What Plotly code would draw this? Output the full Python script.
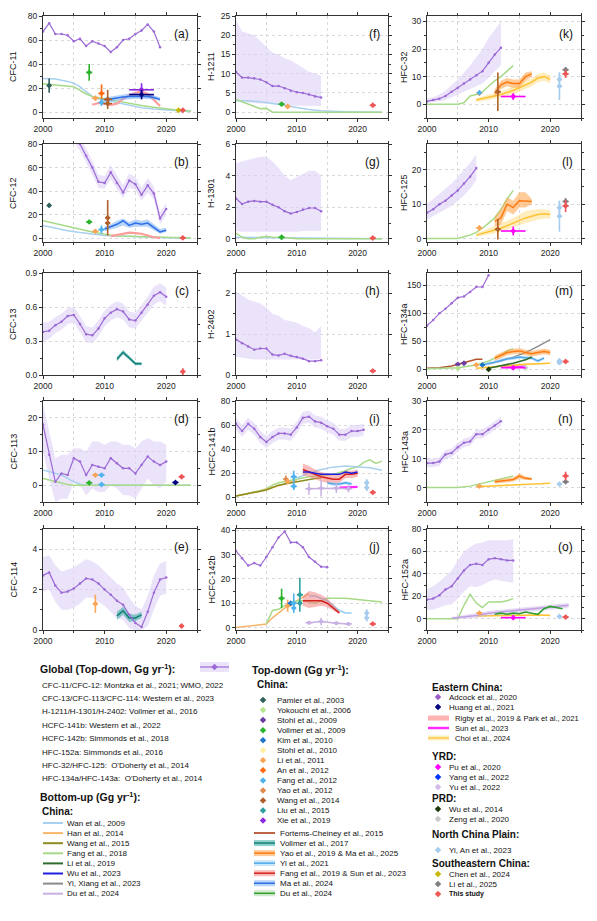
import plotly.graph_objects as go

W, H = 597, 921
FONT = "Liberation Sans, Arial, sans-serif"

# ======================= DATA =======================
# (a) CFC-11
GX_a = list(range(2000, 2020))
GY_a = [67, 74, 65, 65, 64, 59, 61, 55, 59, 57, 55, 50, 54, 60, 61, 65, 68, 73, 67, 54]
GLO_a = None
GHI_a = None
LINES_a = [
    ("WAN", [2000, 2002, 2004, 2005, 2006, 2007, 2008, 2009, 2010, 2012, 2014, 2016, 2018, 2020, 2022, 2024],
     [28, 27.5, 25.5, 24, 21, 17, 13, 11, 10, 8, 5.5, 3.5, 2.5, 1.5, 1, 0.5]),
    ("FANG18", [2000, 2002, 2004, 2005, 2006, 2007, 2008, 2009, 2010, 2012, 2014, 2016, 2018, 2020, 2022, 2024],
     [23.5, 22.5, 21.5, 21, 18, 15, 13, 12, 11, 9.5, 7.5, 5.5, 4, 2.5, 1.5, 0.8]),
    ("RIGBY", [2008, 2009, 2010, 2011, 2012, 2013, 2014, 2015, 2016, 2017, 2018, 2019],
     [6, 7.5, 7, 6, 7, 11, 14, 16, 17, 15, 10, 5]),
]
BANDS_a = [
    ("MA24", [2010, 2011, 2012, 2013, 2014, 2015, 2016, 2017, 2018, 2019],
     [10, 11, 12, 12.5, 13, 13, 13, 13, 12, 10.5],
     [8, 9, 10, 10, 10.5, 11, 11, 11, 10.5, 9],
     [12, 13, 14, 15, 15.5, 16, 15.5, 15, 14, 12]),
]
ERR_a = []
POINTS_a = [
    ("PAMIER", 2001, 22, 0.3, 6), ("VOLL09", 2007.5, 33, 0.5, 7), ("LI11", 2008.5, 11.5, 0.6, 2),
    ("AN12", 2009.5, 15.5, 0.5, 7.5), ("FANG12", 2009.5, 8, 0.5, 3), ("WANG14", 2010.5, 10.5, 0.7, 8),
    ("WANG14", 2010.5, 7, 0.7, 0), ("XIE19", 2016, 18.5, 2, 5.5), ("HUANG", 2016, 14.5, 2, 4),
    ("CHEN", 2022, 1.5, 0.4, 1), ("THIS", 2022.7, 1.5, 0.4, 1.2),
]

# (b) CFC-12
GX_b = list(range(2000, 2021))
GY_b = [105, 103, 100, 96, 92, 88, 80, 70, 60, 48, 47, 56, 47, 39, 49, 46, 37, 45, 38, 17, 25]
GLO_b = [99, 97, 94, 90, 86, 82, 74, 64, 54, 43, 42, 50, 42, 34, 43, 41, 32, 39, 33, 12, 20]
GHI_b = [111, 109, 106, 102, 98, 94, 86, 76, 66, 54, 53, 62, 53, 45, 55, 52, 43, 51, 44, 22, 30]
LINES_b = [
    ("WAN", [2000, 2002, 2004, 2006, 2008, 2010, 2012, 2014, 2016, 2018, 2020, 2022, 2024],
     [11, 8.5, 6.5, 5, 3.5, 2.5, 2, 1.5, 1, 0.8, 0.5, 0.3, 0.2]),
    ("FANG18", [2000, 2002, 2004, 2006, 2008, 2010, 2011, 2012, 2014, 2016, 2018, 2020, 2022, 2024],
     [15, 12.5, 10, 7.5, 5.5, 3.5, 2.5, 2, 1.8, 1.5, 1, 0.8, 0.5, 0.3]),
    ("RIGBY", [2011, 2012, 2013, 2014, 2015, 2016, 2017, 2018, 2019],
     [2, 3, 4.5, 5, 4.5, 4, 2.5, 1, 0.5]),
]
BANDS_b = [
    ("MA24", [2010, 2011, 2012, 2013, 2014, 2015, 2016, 2017, 2018, 2019, 2020],
     [8, 10, 12, 15, 11, 13, 12, 13, 9, 5.5, 7],
     [6, 7.5, 9, 11, 9, 10, 10, 10, 7, 4, 5.5],
     [10, 12, 15, 17, 14, 16, 15, 16, 12, 8, 9]),
]
ERR_b = []
POINTS_b = [
    ("PAMIER", 2001, 28, 0.3, 1.5), ("VOLL09", 2007.5, 14, 0.5, 1.5), ("LI11", 2008.5, 6, 0.5, 1.5),
    ("FANG12", 2009.5, 7.5, 0.5, 3.5), ("WANG14", 2010.5, 17.5, 0.4, 15), ("WANG14", 2010.5, 13, 0.4, 0),
    ("THIS", 2022.7, 0.5, 0.5, 1.5),
]

# (c) CFC-13
GX_c = list(range(2000, 2021))
GY_c = [0.38, 0.39, 0.44, 0.47, 0.52, 0.53, 0.45, 0.36, 0.35, 0.41, 0.5, 0.55, 0.58, 0.56, 0.49, 0.48,
        0.55, 0.62, 0.7, 0.73, 0.69]
GLO_c = [0.30, 0.32, 0.37, 0.40, 0.45, 0.46, 0.38, 0.29, 0.28, 0.34, 0.43, 0.48, 0.51, 0.49, 0.42, 0.41,
         0.48, 0.55, 0.62, 0.65, 0.61]
GHI_c = [0.46, 0.47, 0.51, 0.54, 0.59, 0.60, 0.52, 0.43, 0.42, 0.48, 0.57, 0.62, 0.65, 0.63, 0.56, 0.55,
         0.62, 0.69, 0.78, 0.81, 0.77]
LINES_c = []
BANDS_c = [
    ("VOLL17", [2012, 2013, 2014, 2015, 2016], [0.14, 0.2, 0.15, 0.1, 0.1],
     [0.12, 0.18, 0.13, 0.085, 0.085], [0.16, 0.22, 0.17, 0.115, 0.115]),
]
ERR_c = []
POINTS_c = [("THIS", 2022.7, 0.03, 0.4, 0.03)]

# (d) CFC-113
GX_d = list(range(2000, 2021))
GY_d = [18, 9, 1, 3.5, 3, 8, 7, 3, 6, 5.5, 5, 8, 6.5, 5, 5, 3.5, 6, 8.5, 7, 6, 7]
GLO_d = [10, 2, -5, -4, -4, 1, 0, -3, -1, -2, -2, 0, -1, -3, -3, -4, -1, 2, 0, -1, 1]
GHI_d = [24, 16, 8, 9, 9, 11, 11, 10, 13, 13, 12, 13, 13, 12, 12, 11, 13, 14, 13, 13, 12]
LINES_d = [
    ("WAN", [2000, 2001, 2002, 2003, 2004, 2005, 2006, 2007, 2010, 2015, 2020, 2024],
     [4.5, 4, 3.5, 3, 2, 1, 0.3, 0, 0, 0, 0, 0]),
    ("FANG18", [2000, 2001, 2002, 2003, 2004, 2005, 2010, 2015, 2020, 2024],
     [2, 1.5, 1, 0.5, 0.2, 0, 0, 0, 0, 0]),
]
BANDS_d = []
ERR_d = []
POINTS_d = [
    ("VOLL09", 2007.5, 0.7, 0.5, 0.4), ("LI11", 2008.5, 3, 0.5, 0.3), ("FANG12", 2009.5, 3, 0.5, 0.3),
    ("FANG12", 2009.5, 0.2, 0.5, 0.3), ("HUANG", 2021.5, 0.8, 0.5, 0.3), ("THIS", 2022.5, 2.5, 0.5, 0.4),
]

# (e) CFC-114
GX_e = list(range(2000, 2021))
GY_e = [2.7, 2.85, 2.2, 1.85, 1.9, 2.05, 2.3, 2.55, 2.5, 2.3, 2.0, 1.75, 1.45, 1.25, 0.75, 0.35, 0.15,
        0.9, 1.85, 2.5, 2.6]
GLO_e = [1.9, 2.0, 1.4, 1.0, 1.0, 1.1, 1.3, 1.6, 1.6, 1.4, 1.2, 0.9, 0.6, 0.5, 0.1, 0.0, 0.0, 0.2, 1.0, 1.7, 1.8]
GHI_e = [3.6, 3.7, 3.2, 2.9, 3.0, 3.1, 3.3, 3.5, 3.4, 3.2, 2.9, 2.6, 2.3, 2.1, 1.6, 1.2, 1.0, 1.7, 2.7, 3.3, 3.4]
LINES_e = []
BANDS_e = [
    ("VOLL17", [2012, 2013, 2014, 2015, 2016], [0.7, 0.95, 0.6, 0.6, 0.75],
     [0.5, 0.75, 0.4, 0.45, 0.6], [0.9, 1.15, 0.8, 0.75, 0.9]),
]
ERR_e = []
POINTS_e = [("LI11", 2008.5, 1.3, 0.4, 0.45), ("THIS", 2022.5, 0.2, 0.4, 0.1)]

# (f) H-1211
GX_f = list(range(2000, 2015))
GY_f = [10.5, 9, 9, 8.8, 8.5, 7.8, 6.8, 6.8, 6.2, 5.6, 5.2, 5, 4.6, 4.1, 3.8]
GLO_f = [3, 2.5, 2.5, 2.4, 2.3, 2.2, 2.1, 2.0, 1.9, 1.8, 1.7, 1.7, 1.6, 1.6, 1.6]
GHI_f = [24, 21, 20.5, 20, 18.5, 17, 15.5, 15, 14, 13.5, 12.5, 11.5, 10.5, 10, 9.5]
LINES_f = [
    ("WAN", [2000, 2002, 2004, 2006, 2008, 2010, 2012, 2014, 2016, 2018, 2020, 2022, 2024],
     [3, 3, 2.7, 2.3, 1.8, 1.2, 0.7, 0.4, 0.2, 0.1, 0.05, 0, 0]),
    ("FANG18", [2000, 2001, 2002, 2003, 2004, 2005, 2006, 2010, 2015, 2020, 2024],
     [3.3, 2.7, 2.2, 1.7, 0.9, 1.0, 0, 0, 0, 0, 0]),
]
BANDS_f = []
ERR_f = []
POINTS_f = [("VOLL09", 2007.5, 2.1, 0.5, 0.5), ("LI11", 2008.5, 1.5, 0.5, 0.5), ("THIS", 2022.5, 1.8, 0.5, 0.4)]

# (g) H-1301
GX_g = list(range(2000, 2015))
GY_g = [2.55, 2.2, 2.35, 2.4, 2.35, 2.35, 2.15, 2.0, 1.75, 1.6, 1.7, 1.85, 1.95, 1.95, 1.75]
GLO_g = [0.5, 0.45, 0.45, 0.45, 0.45, 0.45, 0.45, 0.45, 0.45, 0.45, 0.45, 0.5, 0.5, 0.5, 0.5]
GHI_g = [4.8, 4.9, 5.0, 5.1, 5.2, 5.2, 4.9, 4.5, 4.0, 3.7, 3.9, 4.1, 4.3, 4.3, 4.0]
LINES_g = [
    ("WAN", [2000, 2005, 2010, 2015, 2020, 2024], [0.1, 0.08, 0.05, 0.02, 0, 0]),
    ("FANG18", [2000, 2001, 2002, 2003, 2004, 2005, 2006, 2008, 2010, 2015, 2020, 2024],
     [0.35, 0.1, 0, 0, 0.1, 0.15, 0.1, 0.08, 0, 0, 0, 0]),
]
BANDS_g = []
ERR_g = []
POINTS_g = [("VOLL09", 2007.5, 0.1, 0.5, 0.15), ("THIS", 2022.5, 0.05, 0.5, 0.1)]

# (h) H-2402
GX_h = list(range(2000, 2015))
GY_h = [0.87, 0.78, 0.7, 0.62, 0.65, 0.65, 0.5, 0.48, 0.52, 0.47, 0.44, 0.4, 0.34, 0.34, 0.36]
GLO_h = [0.45, 0.42, 0.4, 0.38, 0.38, 0.38, 0.38, 0.38, 0.38, 0.38, 0.38, 0.38, 0.38, 0.38, 0.38]
GHI_h = [2.05, 1.95, 1.85, 1.8, 1.75, 1.65, 1.5, 1.45, 1.35, 1.32, 1.28, 1.2, 1.15, 1.05, 1.2]
LINES_h = []
BANDS_h = []
ERR_h = []
POINTS_h = [("THIS", 2022.5, 0.1, 0.5, 0.05)]

# (i) HCFC-141b
GX_i = list(range(2000, 2022))
GY_i = [61, 55, 61, 57, 50, 46, 50, 53, 53, 52, 58, 66, 67, 63, 62, 59, 57, 52, 52, 55, 55, 56]
GLO_i = [56, 50, 56, 52, 45, 41, 45, 48, 48, 47, 53, 61, 62, 58, 57, 54, 52, 47, 47, 50, 50, 51]
GHI_i = [66, 60, 66, 62, 55, 51, 55, 58, 58, 57, 63, 71, 72, 68, 67, 64, 62, 57, 57, 60, 60, 61]
LINES_i = [
    ("FANG18", [2000, 2001, 2002, 2003, 2004, 2005, 2006, 2007, 2008, 2009, 2010, 2012, 2014, 2016, 2018,
                2019, 2020, 2021, 2022, 2023, 2024],
     [1, 2, 3.5, 4.5, 5.5, 7, 10, 12, 13, 14, 15, 17, 18, 19, 22, 24, 25, 29, 31, 28, 30]),
    ("HAN", [2000, 2002, 2004, 2006, 2008, 2010], [1, 3, 5, 8, 11, 14]),
    ("WANG15", [2000, 2001, 2002, 2003, 2004, 2005, 2006, 2007, 2008, 2009, 2010, 2011, 2012, 2013, 2014],
     [1, 2, 3, 4, 5, 6, 8, 10, 11, 12, 13, 14, 15, 15.5, 16]),
    ("WAN", [2010, 2012, 2014, 2016, 2018, 2020, 2022, 2024], [16, 20, 23, 25, 26, 25.5, 24.5, 22.5]),
    ("SUN23", [2017, 2018, 2019, 2020], [8, 8, 8, 8.5]),
]
BANDS_i = [
    ("YI21", [2015, 2016, 2017, 2018, 2019], [12, 11, 11, 12, 11],
     [10.5, 9.5, 9.5, 10.5, 9.5], [13.5, 12.5, 12.5, 13.5, 12.5]),
    ("FANG19", [2011, 2012, 2013, 2014, 2015, 2016, 2017, 2018, 2019, 2020],
     [23, 21, 19, 17, 16, 15, 15, 19, 19, 20],
     [18, 17, 15, 13, 12, 12, 12, 16, 16, 17],
     [28, 26, 23, 21, 20, 19, 19, 22, 22, 23]),
]
LINES2_i = [("WU23", [2011, 2012, 2013, 2014, 2015, 2016, 2017, 2018, 2019, 2020],
             [21, 21, 20, 19, 19, 19, 19, 21, 20, 21])]
ERR_i = [("DUBU", [2012, 2014, 2016.5, 2018.5], [7, 7.5, 7.5, 7], [0.6, 0.6, 0.6, 0.6], [5, 7, 4, 3])]
POINTS_i = [
    ("YAO12", 2008.2, 15, 0.4, 3), ("LI11", 2008.5, 13, 0.4, 0), ("FANG12", 2009.5, 17, 0.5, 5),
    ("FANG12", 2009.5, 9, 0.5, 3), ("YIAN", 2021.5, 12, 0.3, 3), ("YIAN", 2021.5, 8, 0.3, 3),
    ("THIS", 2022.5, 4, 0.5, 1.5),
]

# (j) HCFC-142b
GX_j = list(range(2000, 2016))
GY_j = [31.5, 28.5, 25.5, 26.5, 25.5, 29, 33, 37, 39.5, 35, 35, 33, 29, 27, 25, 24.8]
GLO_j = None
GHI_j = None
LINES_j = [
    ("HAN", [2000, 2002, 2004, 2005, 2006, 2007, 2008, 2009, 2010, 2011, 2012],
     [0, 0.7, 1.2, 1.5, 4, 6, 8, 9, 11, 12.5, 14]),
    ("FANG18", [2005, 2006, 2007, 2008, 2009, 2010, 2011, 2012, 2013, 2014, 2015, 2016, 2018, 2020, 2022, 2024],
     [1.5, 7, 7.5, 9, 10, 11, 11, 10.5, 10, 11, 12, 12, 12, 11.5, 11, 10.5]),
    ("YI21", [2012, 2013, 2014, 2015, 2016, 2017, 2018, 2019], [13, 13, 12, 11, 9, 7, 6, 6]),
]
BANDS_j = [
    ("FANG19", [2011, 2012, 2013, 2014, 2015, 2016, 2017],
     [11, 11, 11, 11, 10, 8, 6],
     [9, 8, 8.5, 9, 8.5, 7, 5.5],
     [13, 15, 14.5, 13.5, 12, 9.5, 6.5]),
]
LINES2_j = []
ERR_j = [("DUBU", [2012, 2014, 2016.5, 2018.5], [2, 2.5, 1.8, 1.5], [0.6, 0.6, 0.6, 0.6], [0.7, 1.5, 0.8, 0.8])]
POINTS_j = [
    ("VOLL09", 2007.5, 12, 0.5, 4), ("LI11", 2008.5, 9, 0.4, 2.5), ("KIM", 2009, 10, 0.5, 0),
    ("FANG12", 2009.5, 10, 0.5, 4), ("FANG12", 2009.5, 8, 0.3, 0), ("LIU15", 2010.5, 13.5, 0.5, 7),
    ("LIU15", 2010.5, 10, 0.3, 0), ("YIAN", 2021.5, 6, 0.3, 1.5), ("YIAN", 2021.5, 4, 0.3, 1.5),
    ("THIS", 2022.5, 1.5, 0.5, 0.8),
]

# (k) HFC-32
GX_k = list(range(2000, 2013))
GY_k = [1, 1.5, 2, 3, 4.5, 6, 7.5, 9, 10.5, 12, 15, 18, 20.5]
GLO_k = [0.5, 0.8, 1, 1.5, 2.5, 3.5, 4.5, 5.5, 6.5, 7.5, 9.5, 12, 14]
GHI_k = [2, 2.5, 3.5, 5, 7, 9, 11.5, 14, 17, 20, 24, 27, 30]
LINES_k = [
    ("FANG18", [2000, 2005, 2006, 2007, 2008, 2009, 2010, 2011, 2012, 2013, 2014],
     [0, 0, 0.5, 3, 3.5, 4.5, 6.5, 8.5, 10, 12, 14]),
]
BANDS_k = [
    ("CHOI", [2008, 2010, 2012, 2014, 2016, 2017, 2018, 2019, 2020], [1.5, 2.5, 3.5, 5, 7, 8, 9.5, 10, 9],
     [0.8, 1.5, 2.5, 3.5, 5.5, 6.5, 8, 8.5, 7.5], [2.2, 3.5, 4.5, 6.5, 8.5, 9.5, 11, 11.5, 10.5]),
    ("YAO19", [2011, 2012, 2013, 2014, 2015, 2016, 2017], [4, 7, 8, 7.5, 7.5, 10, 11],
     [2.5, 5.5, 6.5, 6, 6, 8.5, 10], [5.5, 8.5, 9.5, 9, 9, 11.5, 12]),
]
LINES2_k = []
ERR_k = []
POINTS_k = [
    ("LI11", 2008.5, 4, 0.5, 1), ("FANG12", 2008.5, 4.2, 0.3, 0), ("WANG14", 2011.5, 4.5, 0.5, 7),
    ("PU", 2014, 2.8, 2, 1.2), ("YIAN", 2021.5, 9, 0.4, 2.5), ("YIAN", 2021.5, 6.5, 0.4, 5),
    ("LI25", 2022.5, 12.5, 0.5, 1), ("THIS", 2022.5, 11, 0.5, 1.5),
]

# (l) HFC-125
GX_l = list(range(2000, 2009))
GY_l = [7.5, 8.5, 10, 11, 12.5, 14, 16, 18, 20.5]
GLO_l = [5.5, 6.5, 7.5, 8.5, 9.5, 11, 12.5, 14.5, 17]
GHI_l = [10, 11.5, 13, 14.5, 16, 18, 20, 22, 24.5]
LINES_l = [
    ("FANG18", [2000, 2005, 2006, 2007, 2008, 2009, 2010, 2011, 2012, 2013, 2014],
     [0, 0, 0.5, 1, 1.8, 3, 4.5, 6, 8.5, 11.5, 14]),
]
BANDS_l = [
    ("CHOI", [2008, 2010, 2012, 2014, 2016, 2018, 2019, 2020], [1, 2, 3, 4.5, 6, 7, 7.2, 7],
     [0.5, 1.2, 2, 3.2, 4.5, 5.5, 5.8, 5.8], [1.5, 3, 4.5, 6, 8, 8.5, 8.5, 8.2]),
    ("YAO19", [2011, 2012, 2013, 2014, 2015, 2016, 2017], [5, 6, 10, 9, 11, 11, 10.8],
     [3.5, 4, 8, 7, 9, 9, 10], [6.5, 8.5, 12, 11, 13.5, 13.5, 11.5]),
]
LINES2_l = []
ERR_l = []
POINTS_l = [
    ("LI11", 2008.5, 3.1, 0.5, 0.8), ("WANG14", 2011.5, 2.7, 0.5, 3), ("PU", 2014, 2.2, 2, 1.3),
    ("YIAN", 2021.5, 9, 0.4, 2), ("YIAN", 2021.5, 6.5, 0.4, 4.5), ("LI25", 2022.5, 10.8, 0.5, 1),
    ("THIS", 2022.5, 9.5, 0.5, 1.8),
]

# (m) HFC-134a
GX_m = list(range(2000, 2011))
GY_m = [78, 88, 100, 108, 118, 128, 130, 138, 147, 147, 168]
GLO_m = None
GHI_m = None
LINES_m = [
    ("FORT", [2000, 2002, 2004, 2005, 2006, 2007, 2008, 2009], [2, 3, 6, 9, 12, 15, 18, 18]),
    ("FANG18", [2000, 2003, 2005, 2008, 2010, 2012, 2013, 2014], [1, 2, 3, 8, 15, 25, 33, 37]),
    ("YIX", [2010, 2012, 2014, 2016, 2018, 2020], [10, 15, 22, 30, 41, 53]),
    ("SUN23", [2012, 2016], [5, 5]),
]
BANDS_m = [
    ("CHOI", [2008, 2010, 2012, 2014, 2016, 2018, 2020], [2, 4, 6, 8, 9, 10, 11],
     [1, 2.5, 4.5, 6.5, 7.5, 8.5, 9.5], [3, 5.5, 7.5, 9.5, 10.5, 11.5, 12.5]),
    ("YAO19", [2011, 2012, 2013, 2014, 2015, 2016, 2017, 2018, 2019, 2020],
     [20, 25, 30, 32, 33, 30, 28, 30, 32, 30],
     [15, 20, 25, 27, 28, 25, 23, 25, 27, 25], [25, 30, 35, 37, 38, 35, 33, 35, 37, 35]),
    ("YI21", [2009, 2010, 2011, 2012, 2013, 2014, 2015, 2016, 2017, 2018, 2019],
     [8, 10, 13, 16, 19, 20, 22, 21, 20, 15, 20],
     [5, 7, 10, 13, 16, 17, 19, 18, 17, 12, 17], [11, 13, 16, 19, 22, 23, 25, 24, 23, 18, 23]),
]
LINES2_m = [("LI19", [2010, 2012, 2014, 2016, 2017], [2, 6, 11, 17, 22])]
ERR_m = []
POINTS_m = [
    ("STOHL09", 2005, 9, 0.4, 2), ("STOHL09", 2006, 11, 0.4, 2), ("YOKO", 2005, 2, 0.3, 2),
    ("LI11", 2008, 8, 0.5, 3), ("KIM", 2009, 8, 0.4, 0), ("WU14", 2010, 0, 0.3, 3), ("ZENG", 2016, 3, 0.3, 2),
    ("PU", 2014, 3, 2, 2), ("YIAN", 2021.5, 15, 0.4, 5), ("YIAN", 2021.5, 12, 0.4, 0),
    ("THIS", 2022.5, 14, 0.5, 3),
]

# (n) HFC-143a
GX_n = list(range(2000, 2013))
GY_n = [8.5, 8.5, 9, 11.5, 12, 14, 15.5, 16, 18.5, 18.5, 20, 21.5, 23]
GLO_n = [7, 7, 7.5, 10, 10.5, 12.5, 14, 14.5, 17, 17, 18.5, 20, 21.5]
GHI_n = [10, 10, 10.5, 13, 13.5, 15.5, 17, 17.5, 20, 20, 21.5, 23, 24.5]
LINES_n = [
    ("FANG18", [2000, 2005, 2007, 2008, 2010, 2012, 2014], [0, 0, 0.5, 1, 2, 3, 4]),
    ("CHOIL", [2008, 2010, 2012, 2014, 2016, 2018, 2020], [0.3, 0.5, 0.7, 0.9, 1.0, 1.2, 1.5]),
]
BANDS_n = [
    ("YAO19", [2011, 2012, 2013, 2014, 2015, 2016, 2017], [2, 2.2, 2.5, 2.8, 4, 3.2, 3],
     [1.3, 1.5, 1.8, 2.1, 3, 2.6, 2.6], [2.7, 2.9, 3.2, 3.5, 5, 3.8, 3.4]),
]
LINES2_n = []
ERR_n = []
POINTS_n = [("LI11", 2008.5, 0.5, 0.5, 0.3), ("YIAN", 2021.5, 1.2, 0.4, 0.5), ("LI25", 2022.5, 2, 0.5, 0.5),
            ("THIS", 2022.5, 4, 0.5, 1.5)]

# (o) HFC-152a
GX_o = list(range(2000, 2015))
GY_o = [17, 18, 21, 26, 29, 36, 43, 48, 49, 48, 53, 54, 53, 52, 52]
GLO_o = [8, 8, 10, 12, 13, 18, 24, 29, 28, 30, 33, 35, 34, 33, 32]
GHI_o = [26, 29, 33, 38, 43, 52, 60, 64, 67, 68, 70, 70, 70, 70, 71]
LINES_o = [
    ("FANG18", [2000, 2005, 2006, 2007, 2008, 2009, 2010, 2011, 2012, 2013, 2014],
     [0, 0, 12, 22, 14, 10, 15, 15, 15, 16, 18]),
    ("CHOIL", [2008, 2010, 2012, 2014, 2016, 2018, 2020], [2.5, 2.8, 3, 3.3, 3.5, 3.3, 3]),
]
BANDS_o = [
    ("DUBU", [2004, 2006, 2008, 2010, 2012, 2014, 2016, 2018, 2020, 2022, 2023],
     [0.5, 1.5, 3, 5, 6, 7, 8, 9, 10, 11, 12],
     [0, 0, 1, 3, 4, 5, 6, 7, 8, 9, 10], [1.5, 3, 5, 7, 8, 9, 10, 11, 12, 13, 14]),
]
LINES2_o = [("DUTD", [2011, 2012, 2013, 2014, 2015, 2016, 2017, 2018, 2019, 2020, 2021, 2022],
             [4, 5, 4, 5, 4.5, 6, 5, 4, 9, 11, 10, 9])]
ERR_o = []
POINTS_o = [("LI11", 2008.5, 5, 0.5, 1.5), ("PU", 2014, 1, 2, 2), ("YIAN", 2021.5, 2, 0.4, 0.8),
            ("THIS", 2022.5, 1.5, 0.5, 1.5)]

# Legend texts
GLOBAL_REFS = [
    "CFC-11/CFC-12: Montzka et al., 2021; WMO, 2022",
    "CFC-13/CFC-113/CFC-114: Western et al., 2023",
    "H-1211/H-1301/H-2402: Vollmer et al., 2016",
    "HCFC-141b: Western et al., 2022",
    "HCFC-142b: Simmonds et al., 2018",
    "HFC-152a: Simmonds et al., 2016",
    "HFC-32/HFC-125:  O'Doherty et al., 2014",
    "HFC-134a/HFC-143a:  O'Doherty et al., 2014",
]
BU_LEGEND = [("WAN", "Wan et al., 2009"), ("HAN", "Han et al., 2014"), ("WANG15", "Wang et al., 2015"),
             ("FANG18", "Fang et al., 2018"), ("LI19", "Li et al., 2019"), ("WU23", "Wu et al., 2023"),
             ("YIX", "Yi, Xiang et al., 2023"), ("DUBU", "Du et al., 2024")]
TD_MARK_LEGEND = [("PAMIER", "Pamier et al., 2003"), ("YOKO", "Yokouchi et al., 2006"),
                  ("STOHL09", "Stohl et al., 2009"), ("VOLL09", "Vollmer et al., 2009"),
                  ("KIM", "Kim et al., 2010"), ("STOHL10", "Stohl et al., 2010"), ("LI11", "Li et al., 2011"),
                  ("AN12", "An et al., 2012"), ("FANG12", "Fang et al., 2012"), ("YAO12", "Yao et al., 2012"),
                  ("WANG14", "Wang et al., 2014"), ("LIU15", "Liu et al., 2015"), ("XIE19", "Xie et al., 2019")]
TD_LINE_LEGEND = [("FORT", "Fortems-Cheiney et al., 2015"), ("VOLL17", "Vollmer et al., 2017"),
                  ("YAO19", "Yao et al., 2019 & Ma et al., 2025"), ("YI21", "Yi et al., 2021"),
                  ("FANG19", "Fang et al., 2019 & Sun et al., 2023"), ("MA24", "Ma et al., 2024"),
                  ("DUTD", "Du et al., 2024")]
EAST_MARK_LEGEND = [("ADCOCK", "Adcock et al., 2020"), ("HUANG", "Huang et al., 2021")]
EAST_LINE_LEGEND = [("RIGBY", "Rigby et al., 2019 & Park et al., 2021"), ("SUN23", "Sun et al., 2023"),
                    ("CHOI", "Choi et al., 2024")]
YRD_LEGEND = [("PU", "Pu et al., 2020"), ("YANG", "Yang et al., 2022"), ("YU", "Yu et al., 2022")]
PRD_LEGEND = [("WU14", "Wu et al., 2014"), ("ZENG", "Zeng et al., 2020")]
NCP_LEGEND = [("YIAN", "Yi, An et al., 2023")]
SE_LEGEND = [("CHEN", "Chen et al., 2024"), ("LI25", "Li et al., 2025"), ("THIS", "<b>This study</b>")]

# ======================= STYLES =======================
GLOBAL_C = "#9C6AD6"
GLOBAL_BAND = "rgba(222,208,247,0.6)"
LINE_STYLE = {
    "WAN": ("#A9D1EF", 1.5), "HAN": ("#F9B66B", 1.5), "WANG15": ("#8C8C1E", 1.5), "FANG18": ("#A6DA88", 1.5),
    "LI19": ("#2E6B2E", 1.6), "WU23": ("#1F1FE0", 1.5), "YIX": ("#8A8A8A", 1.4), "DUBU": ("#C8B0E2", 1.5),
    "FORT": ("#B5532F", 1.5), "RIGBY": ("#FF9C9C", 2.2), "SUN23": ("#FF2BFF", 2.2), "DUTD": ("#2EA02E", 1.6),
    "YI21": ("#93CDF2", 1.6), "CHOIL": ("#FFC233", 1.6),
}
BAND_STYLE = {
    "MA24": ("#2F6FE8", "rgba(110,170,240,0.5)"), "VOLL17": ("#137F77", "rgba(50,170,160,0.55)"),
    "YAO19": ("#FF7A10", "rgba(255,160,70,0.55)"), "YI21": ("#4FA8EA", "rgba(150,205,245,0.5)"),
    "FANG19": ("#D62020", "rgba(245,120,120,0.5)"), "CHOI": ("#FFC233", "rgba(255,215,110,0.45)"),
    "DUBU": ("#C0A0E0", "rgba(200,175,230,0.45)"), "DUTD": ("#2EA02E", "rgba(140,200,130,0.4)"),
}
PT_C = {
    "PAMIER": "#2F5F5A", "YOKO": "#B5E48C", "STOHL09": "#6A3BA0", "VOLL09": "#2DB22D", "KIM": "#1F78C8",
    "STOHL10": "#FFF0A0", "LI11": "#F9A65A", "AN12": "#FF6A10", "FANG12": "#4FB3F0", "YAO12": "#E08C50",
    "WANG14": "#B0602A", "LIU15": "#2FA0A0", "XIE19": "#8A2BE2", "ADCOCK": "#9B59C8", "HUANG": "#000080",
    "PU": "#FF00FF", "YANG": "#0033FF", "YU": "#D4B8E6", "WU14": "#1E3A0A", "ZENG": "#C8C8C8",
    "YIAN": "#A6CCEE", "CHEN": "#C8B800", "LI25": "#808080", "THIS": "#F05555",
}

PANELS = [
    ("a", "CFC-11", [-5, 80], 20, GX_a, GY_a, GLO_a, GHI_a, LINES_a, BANDS_a, [], ERR_a, POINTS_a),
    ("b", "CFC-12", [-3, 80], 20, GX_b, GY_b, GLO_b, GHI_b, LINES_b, BANDS_b, [], ERR_b, POINTS_b),
    ("c", "CFC-13", [0, 0.9], 0.3, GX_c, GY_c, GLO_c, GHI_c, LINES_c, BANDS_c, [], ERR_c, POINTS_c),
    ("d", "CFC-113", [-5, 25], 10, GX_d, GY_d, GLO_d, GHI_d, LINES_d, BANDS_d, [], ERR_d, POINTS_d),
    ("e", "CFC-114", [0, 5], 2, GX_e, GY_e, GLO_e, GHI_e, LINES_e, BANDS_e, [], ERR_e, POINTS_e),
    ("f", "H-1211", [-1.5, 25], 5, GX_f, GY_f, GLO_f, GHI_f, LINES_f, BANDS_f, [], ERR_f, POINTS_f),
    ("g", "H-1301", [-0.2, 6], 2, GX_g, GY_g, GLO_g, GHI_g, LINES_g, BANDS_g, [], ERR_g, POINTS_g),
    ("h", "H-2402", [0, 2.5], 1, GX_h, GY_h, GLO_h, GHI_h, LINES_h, BANDS_h, [], ERR_h, POINTS_h),
    ("i", "HCFC-141b", [-4, 80], 20, GX_i, GY_i, GLO_i, GHI_i, LINES_i, BANDS_i, LINES2_i, ERR_i, POINTS_i),
    ("j", "HCFC-142b", [-1, 40.5], 10, GX_j, GY_j, GLO_j, GHI_j, LINES_j, BANDS_j, LINES2_j, ERR_j, POINTS_j),
    ("k", "HFC-32", [-5, 32], 10, GX_k, GY_k, GLO_k, GHI_k, LINES_k, BANDS_k, LINES2_k, ERR_k, POINTS_k),
    ("l", "HFC-125", [-1, 27.5], 10, GX_l, GY_l, GLO_l, GHI_l, LINES_l, BANDS_l, LINES2_l, ERR_l, POINTS_l),
    ("m", "HFC-134a", [-10, 172], 50, GX_m, GY_m, GLO_m, GHI_m, LINES_m, BANDS_m, LINES2_m, ERR_m, POINTS_m),
    ("n", "HFC-143a", [-5, 30], 10, GX_n, GY_n, GLO_n, GHI_n, LINES_n, BANDS_n, LINES2_n, ERR_n, POINTS_n),
    ("o", "HFC-152a", [-10, 80], 20, GX_o, GY_o, GLO_o, GHI_o, LINES_o, BANDS_o, LINES2_o, ERR_o, POINTS_o),
]

COLS_PX = [(43, 197), (236, 388), (427, 581)]
ROWS_PX = [(16, 118), (144, 242), (273, 375), (401, 502), (529, 630)]
YTITLE_X = [13, 211, 404]

fig = go.Figure()
layout = dict(width=W, height=H, margin=dict(l=0, r=0, t=0, b=0, pad=0), autosize=False,
              template="none",
              paper_bgcolor="white", plot_bgcolor="rgba(0,0,0,0)", showlegend=False,
              font=dict(family=FONT, size=8, color="#222"))
annotations = []


def axnames(i):
    return ("x", "y") if i == 0 else (f"x{i + 1}", f"y{i + 1}")


for i, (lab, title, yr, dt, gx, gy, glo, ghi, lines, bands, lines2, errs, pts) in enumerate(PANELS):
    col, row = i // 5, i % 5
    xa, ya = axnames(i)
    x0, x1 = COLS_PX[col]
    y0, y1 = ROWS_PX[row]
    axk = "" if i == 0 else str(i + 1)
    layout["xaxis" + axk] = dict(
        domain=[x0 / W, x1 / W], anchor=ya, range=[2000, 2025], tick0=2000, dtick=10, automargin=False,
        showline=True, linecolor="#333", linewidth=1, mirror="ticks", ticks="outside", ticklen=3,
        tickcolor="#333", showgrid=False, zeroline=False, tickfont=dict(size=8.5),
        minor=dict(dtick=5, tick0=2000, ticks="outside", ticklen=2, tickcolor="#333",
                   showgrid=True, gridcolor="#D9D9D9", griddash="dot", gridwidth=1))
    layout["yaxis" + axk] = dict(
        domain=[1 - y1 / H, 1 - y0 / H], anchor=xa, range=yr, tick0=0, dtick=dt, automargin=False,
        showline=True, linecolor="#333", linewidth=1, mirror="ticks", ticks="outside", ticklen=3,
        tickcolor="#333", showgrid=True, gridcolor="#D9D9D9", griddash="dot", gridwidth=1, zeroline=False,
        tickfont=dict(size=8.5), tickformat=".1f" if dt < 1 else None,
        minor=dict(dtick=dt / 2, ticks="outside", ticklen=2, tickcolor="#333"))
    # y-axis title as rotated text at fixed offset (as in the original figure)
    annotations.append(dict(text=title, xref="paper", yref="paper", x=YTITLE_X[col] / W,
                            y=1 - (y0 + y1) / 2 / H, textangle=-90, showarrow=False,
                            xanchor="center", yanchor="middle", font=dict(size=9, color="#111")))
    common = dict(xaxis=xa, yaxis=ya, hoverinfo="skip", showlegend=False)
    if glo is not None:
        fig.add_trace(go.Scatter(x=gx + gx[::-1], y=ghi + glo[::-1], fill="toself", fillcolor=GLOBAL_BAND,
                                 mode="lines", line=dict(width=0), **common))
    for key, xs, ys in lines:
        c, w = LINE_STYLE[key]
        fig.add_trace(go.Scatter(x=xs, y=ys, mode="lines", line=dict(color=c, width=w), **common))
    for key, xs, ys, lo, hi in bands:
        lc, bc = BAND_STYLE[key]
        fig.add_trace(go.Scatter(x=xs + xs[::-1], y=hi + lo[::-1], fill="toself", fillcolor=bc,
                                 mode="lines", line=dict(width=0), **common))
        fig.add_trace(go.Scatter(x=xs, y=ys, mode="lines", line=dict(color=lc, width=1.5), **common))
    for key, xs, ys in lines2:
        c, w = LINE_STYLE[key]
        fig.add_trace(go.Scatter(x=xs, y=ys, mode="lines", line=dict(color=c, width=w), **common))
    fig.add_trace(go.Scatter(x=gx, y=gy, mode="lines+markers", line=dict(color=GLOBAL_C, width=1.2),
                             marker=dict(color=GLOBAL_C, size=2.5), **common))
    for key, xs, ys, xe, ye in errs:
        c, w = LINE_STYLE[key]
        fig.add_trace(go.Scatter(x=xs, y=ys, mode="lines+markers", line=dict(color=c, width=w),
                                 marker=dict(color=c, size=4),
                                 error_x=dict(type="data", array=xe, width=0, thickness=1.5, color=c),
                                 error_y=dict(type="data", array=ye, width=0, thickness=1.5, color=c),
                                 **common))
    for key, x, y, xe, ye in pts:
        c = PT_C[key]
        fig.add_trace(go.Scatter(x=[x], y=[y], mode="markers",
                                 marker=dict(color=c, size=4.5, symbol="diamond"),
                                 error_x=dict(type="data", array=[xe], width=0, thickness=1.6, color=c,
                                              visible=xe > 0),
                                 error_y=dict(type="data", array=[ye], width=0, thickness=1.6, color=c,
                                              visible=ye > 0),
                                 **common))
    annotations.append(dict(text=f"({lab})", xref=f"{xa} domain", yref=f"{ya} domain", x=0.96, y=0.82,
                            xanchor="right", yanchor="middle", showarrow=False,
                            font=dict(size=12, color="#111")))

# ======================= LEGEND =======================
# overlay axis in pixel units for legend glyphs
layout["xaxis16"] = dict(domain=[0, 1], range=[0, W], visible=False, anchor="y16", fixedrange=True,
                         automargin=False)
layout["yaxis16"] = dict(domain=[0, 1], range=[H, 0], visible=False, anchor="x16", fixedrange=True,
                         automargin=False)
LG = dict(xaxis="x16", yaxis="y16", hoverinfo="skip", showlegend=False, cliponaxis=False)


def txt(s, x, y, size=8, bold=False):
    annotations.append(dict(text=f"<b>{s}</b>" if bold else s, xref="paper", yref="paper", x=x / W,
                            y=1 - y / H, xanchor="left", yanchor="middle", showarrow=False,
                            font=dict(size=size, color="#111")))


def mark(x, y, c):
    fig.add_trace(go.Scatter(x=[x], y=[y], mode="markers", marker=dict(color=c, size=5, symbol="diamond"), **LG))


def seg(xa_, xb_, y, c, w):
    fig.add_trace(go.Scatter(x=[xa_, xb_], y=[y, y], mode="lines", line=dict(color=c, width=w), **LG))


# Global
txt("Global (Top-down, Gg yr<sup>-1</sup>):", 38, 668, 10.5, True)
seg(200, 229, 667, GLOBAL_BAND, 10)
seg(200, 229, 667, GLOBAL_C, 1.2)
mark(214.5, 667, GLOBAL_C)
for k, s in enumerate(GLOBAL_REFS):
    txt(s, 40, 685 + k * 13.4, 8)

# Bottom-up
txt("Bottom-up (Gg yr<sup>-1</sup>):", 38, 796, 10.5, True)
txt("China:", 40, 811, 10, True)
for k, (key, s) in enumerate(BU_LEGEND):
    y = 823 + k * 10.1
    seg(43, 63, y, LINE_STYLE[key][0], 2)
    txt(s, 65, y, 8)

# Top-down China
txt("Top-down (Gg yr<sup>-1</sup>):", 250, 669, 10.5, True)
txt("China:", 255, 684, 10, True)
for k, (key, s) in enumerate(TD_MARK_LEGEND):
    y = 700 + k * 10.05
    mark(263, y, PT_C[key])
    txt(s, 275, y, 8)
for k, (key, s) in enumerate(TD_LINE_LEGEND):
    y = 833 + k * 10.05
    if key in BAND_STYLE:
        seg(254, 275, y, BAND_STYLE[key][1], 6)
        seg(254, 275, y, BAND_STYLE[key][0], 1.5)
    else:
        seg(254, 275, y, LINE_STYLE[key][0], 1.8)
    txt(s, 278, y, 8)

# Right column
txt("Eastern China:", 430, 687, 10, True)
for k, (key, s) in enumerate(EAST_MARK_LEGEND):
    y = 697 + k * 10
    mark(438, y, PT_C[key])
    txt(s, 447, y, 8)
for k, (key, s) in enumerate(EAST_LINE_LEGEND):
    y = 718 + k * 10
    if key == "CHOI":
        seg(428, 449, y, BAND_STYLE[key][1], 5)
        seg(428, 449, y, BAND_STYLE[key][0], 1.2)
    elif key == "RIGBY":
        seg(428, 449, y, "rgba(255,160,160,0.8)", 5)
    else:
        seg(428, 449, y, LINE_STYLE[key][0], 2.5)
    txt(s, 453, y, 7.6)

groups = [("YRD:", 756, YRD_LEGEND), ("PRD:", 798, PRD_LEGEND), ("North China Plain:", 834, NCP_LEGEND),
          ("Southeastern China:", 863, SE_LEGEND)]
for head, hy, items in groups:
    txt(head, 430, hy, 10, True)
    start = hy + (16 if head.startswith("North") else 11)
    for k, (key, s) in enumerate(items):
        y = start + k * 10
        mark(438, y, PT_C[key])
        txt(s, 447, y, 7 if key == "THIS" else 8)

layout["annotations"] = annotations
fig.update_layout(**layout)
fig.write_html("out.html", config={"displayModeBar": False, "staticPlot": True},
               post_script="document.body.style.margin='0px';")
